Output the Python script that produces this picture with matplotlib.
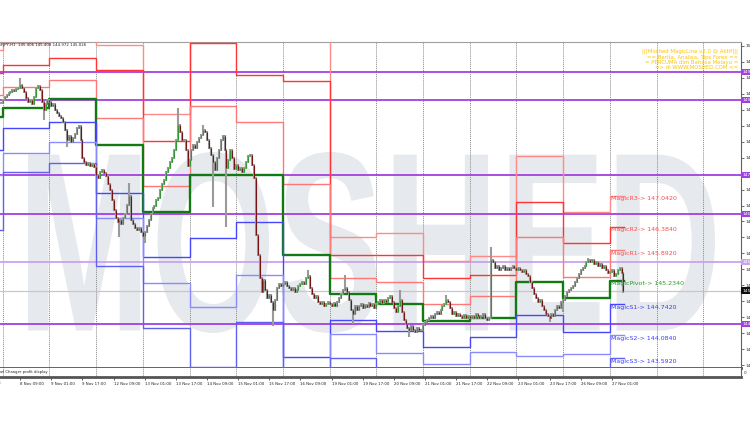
import matplotlib
matplotlib.use('Agg')
import matplotlib.pyplot as plt
from matplotlib.textpath import TextPath
from matplotlib.font_manager import FontProperties
from matplotlib.patches import PathPatch
from matplotlib.transforms import Affine2D, blended_transform_factory

# H1 closes, bar -1 (7 Nov 23:00) .. bar 319 (27 Nov 07:00)
closes = [149.02,
    149.09, 149.15, 149.19, 149.23, 149.26, 149.30, 149.28, 149.32, 149.34, 149.40, 149.34, 149.26,
    149.13, 149.04, 149.09, 149.00, 149.15, 149.34, 149.38, 149.30, 149.04, 148.87, 149.00, 149.09,
    149.04, 148.96, 149.00, 148.87, 148.81, 148.74, 148.70, 148.62, 148.45, 148.23, 148.32, 148.19,
    148.28, 148.36, 148.49, 148.53, 148.23, 147.85, 147.77, 147.70, 147.74, 147.68, 147.72, 147.66,
    147.49, 147.43, 147.55, 147.60, 147.53, 147.47, 147.30, 147.17, 146.96, 146.74, 146.57, 146.49,
    146.53, 146.45, 146.57, 146.66, 146.85, 147.04, 146.53, 146.45, 146.36, 146.32, 146.36, 146.28,
    146.19, 146.28, 146.40, 146.53, 146.66, 146.79, 146.83, 146.96, 147.00, 147.17, 147.30, 147.38,
    147.55, 147.64, 147.77, 147.85, 148.02, 148.23, 148.55, 148.40, 148.23, 148.23, 148.02, 147.68,
    147.81, 148.02, 148.13, 148.06, 148.19, 148.28, 148.34, 148.45, 148.40, 148.23, 148.06, 147.91,
    147.77, 147.60, 147.85, 148.02, 148.23, 148.32, 148.02, 147.64, 147.81, 148.02, 147.85, 147.62,
    147.70, 147.60, 147.64, 147.55, 147.64, 147.77, 147.89, 147.91, 147.70, 147.43, 146.21, 145.79,
    145.30, 145.00, 145.26, 145.04, 144.87, 144.94, 144.79, 144.62, 144.83, 145.09, 145.17, 145.13,
    145.17, 145.21, 145.13, 145.09, 145.04, 145.09, 145.00, 145.04, 145.13, 145.17, 145.21, 145.17,
    145.30, 145.34, 145.09, 144.96, 144.87, 144.91, 144.79, 144.74, 144.79, 144.70, 144.74, 144.79,
    144.74, 144.70, 144.77, 144.70, 144.79, 144.87, 144.96, 145.04, 145.09, 145.00, 144.83, 144.62,
    144.53, 144.70, 144.62, 144.70, 144.74, 144.66, 144.72, 144.68, 144.77, 144.70, 144.74, 144.66,
    144.74, 144.79, 144.83, 144.77, 144.83, 144.79, 144.87, 144.91, 144.79, 144.66, 144.58, 144.70,
    144.83, 144.58, 144.40, 144.32, 144.23, 144.19, 144.28, 144.19, 144.15, 144.23, 144.19, 144.19,
    144.30, 144.36, 144.40, 144.45, 144.49, 144.45, 144.53, 144.58, 144.53, 144.62, 144.70, 144.74,
    144.83, 144.79, 144.66, 144.53, 144.58, 144.49, 144.53, 144.49, 144.45, 144.51, 144.45, 144.49,
    144.45, 144.49, 144.45, 144.53, 144.49, 144.45, 144.49, 144.53, 144.45, 144.40, 144.45, 145.68,
    145.64, 145.51, 145.55, 145.47, 145.51, 145.55, 145.47, 145.51, 145.47, 145.51, 145.55, 145.51,
    145.47, 145.51, 145.47, 145.43, 145.47, 145.38, 145.34, 145.21, 145.09, 144.96, 144.87, 144.79,
    144.83, 144.70, 144.62, 144.53, 144.49, 144.45, 144.53, 144.49, 144.62, 144.70, 144.66, 144.79,
    144.83, 144.91, 145.00, 145.04, 145.09, 145.13, 145.21, 145.30, 145.38, 145.47, 145.51, 145.55,
    145.64, 145.68, 145.64, 145.68, 145.60, 145.64, 145.55, 145.60, 145.51, 145.55, 145.47, 145.40,
    145.43, 145.47, 145.34, 145.38, 145.47, 145.51, 145.41, 145.03]
first_bar = -1

# long wicks: bar -> (high, low)
spikes = {9: (149.55, None), 21: (None, 148.66), 33: (None, 148.09), 60: (None, 146.17),
          65: (147.32, None), 73: (None, 146.04), 90: (148.91, None), 103: (148.55, None),
          108: (None, 146.81), 115: (None, 146.38), 139: (None, 144.27), 157: (145.47, None),
          176: (145.36, None), 180: (None, 144.32), 204: (145.04, None), 209: (None, 144.04),
          228: (144.94, None), 251: (145.96, None), 281: (None, 144.36), 288: (None, 144.58),
          301: (145.73, None), 319: (None, 144.97)}

# daily MagicLine levels, 7 Nov .. 27 Nov
days = ['7 Nov', '8 Nov', '9 Nov', '12 Nov', '13 Nov', '14 Nov', '15 Nov', '16 Nov',
        '19 Nov', '20 Nov', '21 Nov', '22 Nov', '23 Nov', '26 Nov', '27 Nov']
r3 = [150.15, 150.30, 150.40, 150.26, 148.79, 151.77, 150.74, 151.00, 146.17, 146.26, 145.66, 145.77, 147.89, 146.70, 147.042]
r2 = [149.66, 149.83, 149.98, 149.72, 148.21, 150.30, 149.62, 149.49, 145.79, 145.79, 145.30, 145.36, 146.91, 146.04, 146.384]
r1 = [149.19, 149.36, 149.51, 148.70, 147.26, 148.96, 148.62, 147.30, 145.30, 145.21, 144.74, 144.91, 146.17, 145.32, 145.892]
pv = [148.72, 148.91, 149.11, 148.13, 146.70, 147.49, 147.49, 145.79, 144.96, 144.74, 144.38, 144.45, 145.21, 144.87, 145.234]
s1 = [148.02, 148.49, 148.62, 147.11, 145.74, 146.15, 146.49, 143.62, 144.40, 144.17, 143.83, 144.04, 144.51, 144.15, 144.742]
s2 = [147.49, 147.96, 148.19, 146.57, 145.19, 144.68, 145.36, 142.09, 144.11, 143.70, 143.47, 143.72, 143.64, 143.68, 144.084]
s3 = [146.32, 147.55, 147.74, 145.55, 144.23, 143.41, 144.36, 140.57, 143.60, 143.13, 142.91, 143.34, 142.96, 143.02, 143.592]

purple_levels = [149.68, 149.09, 147.49, 146.66, 145.64, 144.32]
purple_light = [False, False, False, False, True, False]

time_labels = ['8 Nov 09:00', '9 Nov 01:00', '9 Nov 17:00', '12 Nov 09:00', '13 Nov 01:00',
               '13 Nov 17:00', '14 Nov 09:00', '15 Nov 01:00', '15 Nov 17:00', '16 Nov 09:00',
               '19 Nov 01:00', '19 Nov 17:00', '20 Nov 09:00', '21 Nov 01:00', '21 Nov 17:00',
               '22 Nov 09:00', '23 Nov 01:00', '23 Nov 17:00', '26 Nov 09:00', '27 Nov 01:00']
price_ticks = [150.24, 149.90, 149.56, 149.22, 148.88, 148.54, 148.20, 147.86, 147.52, 147.18,
               146.84, 146.50, 146.16, 145.82, 145.48, 145.14, 144.80, 144.46, 144.12, 143.78, 143.44]

W, H = 750, 430
fig = plt.figure(figsize=(7.5, 4.3), dpi=100)
fig.patch.set_facecolor('white')
ax = fig.add_axes([0, (H - 368) / H, 741 / W, (368 - 42) / H])
ax2 = fig.add_axes([0, (H - 377) / H, 741 / W, 9 / H])

xmin, xmax = -1.39, 379.4
ax.set_xlim(xmin, xmax)
ax.set_ylim(143.383, 150.319)
ax2.set_xlim(xmin, xmax)
ax2.set_ylim(0, 1)

# watermark
tp = TextPath((0, 0), 'MOSHED', size=100, prop=FontProperties(family='Liberation Sans', weight='bold'))
bb = tp.get_extents()
wm_tr = Affine2D().translate(-bb.x0, -bb.y0).scale((715 - 28) / bb.width, (333 - 152) / bb.height).translate(28, H - 333)
ax.add_patch(PathPatch(tp, transform=wm_tr, facecolor='#e6e9ed', edgecolor='none', zorder=0.5))

# day separators
nday = len(days)
for k in range(nday + 2):
    for a in (ax, ax2):
        a.axvline(24 * (k - 1) + 24, color='#8a8a8a', lw=0.7, ls=(0, (1, 1)), zorder=1)

# horizontal purple lines
for lv, light in zip(purple_levels, purple_light):
    ax.axhline(lv, color='#caa2ee' if light else '#a33fe0', lw=1.3, zorder=2)

# current price line
ax.axhline(closes[-1], color='#c8c8c8', lw=0.9, zorder=2)

# pivot step lines
starts = [24 * (k - 1) for k in range(nday)]
last_x = first_bar + len(closes) - 0.5
xs = starts + [last_x]
styles = [(r3, '#ff8a8a', 1.0), (r2, '#ff3434', 1.0), (r1, '#ff7878', 1.0),
          (pv, '#137a13', 1.7),
          (s1, '#4646ff', 1.0), (s2, '#8a8aff', 1.0), (s3, '#6060f0', 1.0)]
for vals, col, lw in styles:
    ax.step(xs, vals + [vals[-1]], where='post', color=col, lw=lw, zorder=3)

# candles
bx, lo_, hi_, bull_x, bull_lo, bull_hi, bear_x, bear_lo, bear_hi = [], [], [], [], [], [], [], [], []
for j, c in enumerate(closes):
    i = first_bar + j
    o = closes[j - 1] if j > 0 else c
    hi = max(o, c) + 0.025
    lo = min(o, c) - 0.025
    if i in spikes:
        sh, sl = spikes[i]
        if sh is not None:
            hi = sh
        if sl is not None:
            lo = sl
    bx.append(i); lo_.append(lo); hi_.append(hi)
    if c >= o:
        bull_x.append(i); bull_lo.append(o); bull_hi.append(max(c, o + 0.01))
    else:
        bear_x.append(i); bear_lo.append(c); bear_hi.append(o)
ax.vlines(bx, lo_, hi_, color='#9a9a9a', lw=1.5, zorder=4)
ax.vlines(bull_x, bull_lo, bull_hi, color='#2f9a2f', lw=0.8, zorder=5)
ax.vlines(bear_x, bear_lo, bear_hi, color='#741414', lw=0.8, zorder=5)

# current day labels
lab_names = ['MagicR3', 'MagicR2', 'MagicR1', 'MagicPivot', 'MagicS1', 'MagicS2', 'MagicS3']
lab_cols = ['#ff4a4a', '#ff4a4a', '#ff4a4a', '#2a9a2a', '#3c3cff', '#3c3cff', '#3c3cff']
for (vals, _, _), name, col in zip(styles, lab_names, lab_cols):
    ax.text(starts[-1] + 0.4, vals[-1] - 0.01, '%s-> %.4f' % (name, vals[-1]), color=col,
            fontsize=4.5, va='top', ha='left', zorder=6)

# right price axis
ax.yaxis.tick_right()
ax.set_yticks(price_ticks)
ax.set_yticklabels(['%.3f' % t for t in price_ticks])
ax.tick_params(axis='y', length=2, width=0.5, labelsize=3.2, pad=1, colors='#303030')
ax.set_xticks([])
yb = blended_transform_factory(ax.transAxes, ax.transData)
for lv, light in zip(purple_levels, purple_light):
    ax.text(1.002, lv, '%.3f' % lv, transform=yb, fontsize=3.2, color='white', va='center', ha='left',
            clip_on=False, zorder=7,
            bbox=dict(fc='#caa2ee' if light else '#a33fe0', ec='none', pad=0.8))
ax.text(1.002, closes[-1], '%.3f' % closes[-1], transform=yb, fontsize=3.2, color='white', va='center',
        ha='left', clip_on=False, zorder=7, bbox=dict(fc='#101010', ec='none', pad=0.8))

ax.spines['left'].set_visible(False)
ax2.spines['left'].set_visible(False)
ax.spines['top'].set_color('#a0a0a0')
ax.spines['top'].set_linewidth(0.8)
ax.spines['right'].set_color('#606060')
ax.spines['bottom'].set_color('#555555')
ax.spines['bottom'].set_linewidth(2)
ax2.spines['top'].set_visible(False)
ax2.spines['right'].set_color('#606060')
ax2.spines['bottom'].set_color('#555555')
ax2.spines['bottom'].set_linewidth(2)

# sub window
ax2.set_yticks([])
ax2.text(-0.008, 0.5, 'Label Changer profit display', transform=ax2.transAxes, fontsize=2.7,
         va='center', ha='left', color='#202020', clip_on=False)
ax2.text(1.004, 0.5, '0', transform=ax2.transAxes, fontsize=3, va='center', ha='left',
         color='#303030', clip_on=False)
ax2.set_xticks([9 + 16 * k for k in range(len(time_labels))])
ax2.set_xticklabels(time_labels)
for t in ax2.get_xticklabels():
    t.set_ha('left')
ax2.tick_params(axis='x', length=2, width=0.5, labelsize=2.8, pad=1.5, colors='#202020')
ax2.text(-12.5, -0.5, '8 Nov 2018', fontsize=2.8, va='top', ha='left', color='#202020',
         transform=blended_transform_factory(ax2.transData, ax2.transAxes), clip_on=False)

# header texts
fig.text(86 / W, 1 - 45 / H, 'GBPJPY,H1  %.3f %.3f %.3f %.3f' % (145.406, 145.408, 144.972, 145.026),
         ha='right', va='center', fontsize=2.8, color='#202020')
fig.text(738 / W, 1 - 49 / H,
         '||[Moshed MagicLine v2.0 @ Aktif]||\n== Berita, Analisa, Tips Forex ==\n'
         '= PERCUMA dlm Bahasa Melayu =\n=> di WWW.MOSHED.COM <=',
         ha='right', va='top', fontsize=3.9, color='#ffc400', multialignment='right', linespacing=1.05)

fig.savefig('out.png', dpi=100)
